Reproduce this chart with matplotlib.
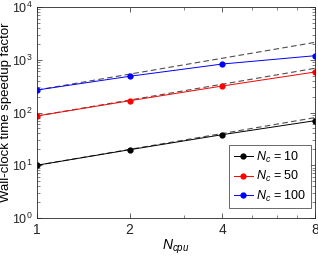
import numpy as np
import matplotlib
matplotlib.use('Agg')
import matplotlib.pyplot as plt
from matplotlib.ticker import FixedLocator, NullFormatter, LogLocator

plt.rcParams['font.family'] = ['Liberation Sans', 'DejaVu Sans']
plt.rcParams['mathtext.fontset'] = 'custom'
plt.rcParams['mathtext.rm'] = 'Liberation Sans'
plt.rcParams['mathtext.it'] = 'Liberation Sans:italic'

# data
ncpu = [1, 2, 4, 8]
speedup_10 = [10.0, 19.7, 38.0, 70.0]
speedup_50 = [86.0, 167.0, 318.0, 586.0]
speedup_100 = [267.0, 486.0, 830.0, 1193.0]
labels = ['$N_c$ = 10', '$N_c$ = 50', '$N_c$ = 100']
colors = ['black', 'red', 'blue']

fig = plt.figure(figsize=(3.18, 2.56), dpi=100)
ax = fig.add_axes([37/318, 38/256, 278/318, 211/256])

for s, c, lab in zip([speedup_10, speedup_50, speedup_100], colors, labels):
    ideal = [s[0] * n for n in ncpu]
    ax.plot(ncpu, ideal, '--', color='0.3', lw=0.8, dashes=(5, 3))
    ax.plot(ncpu, s, '-', color=c, lw=0.7, marker='o', ms=3.5, label=lab)

ax.set_xscale('log', base=2)
ax.set_yscale('log')
ax.set_xlim(1, 8)
ax.set_ylim(1, 1e4)
ax.set_xticks(ncpu)
ax.set_xticklabels([str(n) for n in ncpu])
ax.xaxis.set_minor_locator(FixedLocator([3, 5, 6, 7]))
ax.xaxis.set_minor_formatter(NullFormatter())
ax.set_yticks([1, 10, 100, 1000, 10000])
ax.set_yticklabels(['$10^0$', '$10^1$', '$10^2$', '$10^3$', '$10^4$'])
ax.yaxis.set_minor_locator(LogLocator(base=10, subs=np.arange(2, 10)))
ax.yaxis.set_minor_formatter(NullFormatter())

ax.tick_params(which='both', direction='in', top=True, right=True, labelsize=10, colors='0.15')
ax.tick_params(axis='y', labelsize=9, pad=3)
ax.tick_params(which='major', length=3.5, width=0.5)
ax.tick_params(which='minor', length=2, width=0.4)
for sp in ax.spines.values():
    sp.set_color('0.15')
    sp.set_linewidth(0.6)

ax.set_xlabel('$N_{cpu}$', fontsize=10)
ax.xaxis.set_label_coords(0.5, -0.095)
ax.set_ylabel('Wall-clock time speedup factor', fontsize=9.5)
ax.yaxis.set_label_coords(-0.09, 0.5)

leg = ax.legend(loc='lower right', fontsize=9, fancybox=False, edgecolor='0.15',
                handlelength=1.5, borderpad=0.35, labelspacing=0.35, handletextpad=0.3,
                borderaxespad=0, bbox_to_anchor=(0.986, 0.047))
leg.get_frame().set_linewidth(0.6)

fig.savefig('out.png', dpi=100)
